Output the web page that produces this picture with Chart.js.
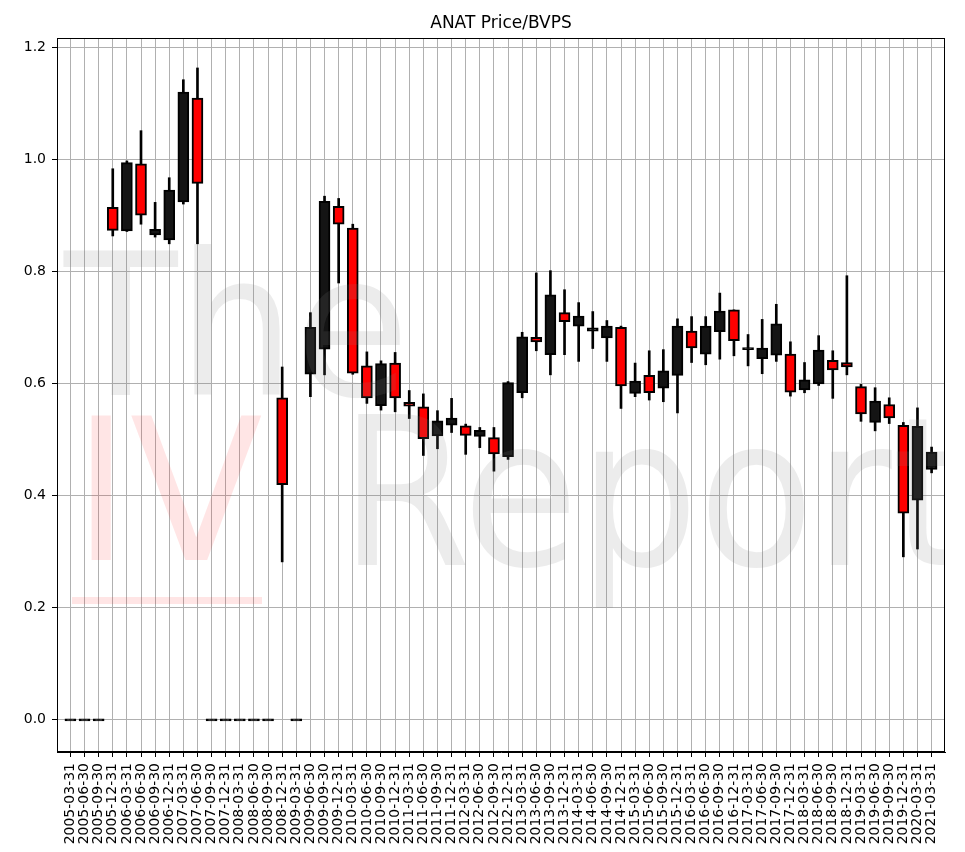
<!DOCTYPE html>
<html>
<head>
<meta charset="utf-8">
<script src="https://cdn.jsdelivr.net/npm/chart.js@4.4.1/dist/chart.umd.min.js"></script>
<style>
  html, body { margin: 0; padding: 0; background: #ffffff; }
  #wrap { width: 965px; height: 852px; }
</style>
</head>
<body>
<div id="wrap"><canvas id="c" width="965" height="852"></canvas></div>
<script>
// ---- Data ----
const dates = [
  "2005-03-31","2005-06-30","2005-09-30","2005-12-31",
  "2006-03-31","2006-06-30","2006-09-30","2006-12-31",
  "2007-03-31","2007-06-30","2007-09-30","2007-12-31",
  "2008-03-31","2008-06-30","2008-09-30","2008-12-31",
  "2009-03-31","2009-06-30","2009-09-30","2009-12-31",
  "2010-03-31","2010-06-30","2010-09-30","2010-12-31",
  "2011-03-31","2011-06-30","2011-09-30","2011-12-31",
  "2012-03-31","2012-06-30","2012-09-30","2012-12-31",
  "2013-03-31","2013-06-30","2013-09-30","2013-12-31",
  "2014-03-31","2014-06-30","2014-09-30","2014-12-31",
  "2015-03-31","2015-06-30","2015-09-30","2015-12-31",
  "2016-03-31","2016-06-30","2016-09-30","2016-12-31",
  "2017-03-31","2017-06-30","2017-09-30","2017-12-31",
  "2018-03-31","2018-06-30","2018-09-30","2018-12-31",
  "2019-03-31","2019-06-30","2019-09-30","2019-12-31",
  "2020-03-31","2021-03-31"
];
const openP = [
  0,0,0,0.915, 0.873,0.993,0.866,0.857, 0.925,1.110,0,0, 0,0,0,0.575,
  0,0.617,0.662,0.917, 0.878,0.632,0.561,0.637, 0.567,0.559,0.507,0.526,
  0.525,0.506,0.504,0.470, 0.584,0.683,0.652,0.727, 0.703,0.694,0.682,0.701,
  0.583,0.615,0.592,0.615, 0.694,0.653,0.693,0.732, 0.661,0.645,0.651,0.653,
  0.589,0.600,0.642,0.638, 0.595,0.531,0.563,0.526, 0.392,0.447
];
const highP = [
  0,0,0,0.984, 0.998,1.052,0.924,0.968, 1.143,1.164,0,0, 0,0,0,0.630,
  0,0.727,0.935,0.931, 0.885,0.657,0.641,0.656, 0.588,0.582,0.552,0.574,
  0.528,0.522,0.522,0.604, 0.692,0.798,0.802,0.768, 0.745,0.729,0.713,0.703,
  0.637,0.659,0.661,0.716, 0.720,0.720,0.762,0.732, 0.688,0.715,0.742,0.675,
  0.638,0.686,0.659,0.793, 0.599,0.593,0.575,0.531, 0.557,0.487
];
const lowP = [
  0,0,0,0.864, 0.872,0.885,0.862,0.850, 0.921,0.850,0,0, 0,0,0,0.282,
  0,0.577,0.616,0.780, 0.617,0.565,0.553,0.550, 0.538,0.472,0.484,0.513,
  0.474,0.486,0.444,0.465, 0.575,0.659,0.616,0.652, 0.640,0.663,0.640,0.556,
  0.577,0.571,0.568,0.548, 0.638,0.634,0.644,0.650, 0.632,0.618,0.640,0.578,
  0.584,0.597,0.574,0.616, 0.533,0.516,0.529,0.291, 0.305,0.441
];
const closeP = [
  0,0,0,0.874, 0.995,0.901,0.876,0.946, 1.121,0.958,0,0, 0,0,0,0.420,
  0,0.701,0.926,0.885, 0.619,0.575,0.636,0.575, 0.560,0.502,0.534,0.539,
  0.508,0.517,0.475,0.602, 0.684,0.675,0.759,0.711, 0.721,0.700,0.703,0.596,
  0.605,0.584,0.623,0.703, 0.664,0.703,0.730,0.677, 0.664,0.664,0.707,0.585,
  0.607,0.660,0.625,0.630, 0.546,0.569,0.539,0.369, 0.524,0.478
];
const yTicks = [0.0, 0.2, 0.4, 0.6, 0.8, 1.0, 1.2];
const chartTitle = "ANAT Price/BVPS";

// ---- Build datasets ----
const bodyData = dates.map((d, i) => ({ x: i, y: [openP[i], closeP[i]] }));
const wickData = dates.map((d, i) => ({ x: i, y: [lowP[i], highP[i]] }));
const bodyColors = dates.map((d, i) => closeP[i] < openP[i] ? '#ff0000' : '#141414');

const FONT = "'DejaVu Sans', Verdana, sans-serif";

const overlayPlugin = {
  id: 'overlay',
  afterDraw(chart) {
    const ctx = chart.ctx;
    const a = chart.chartArea;
    // watermark
    ctx.save();
    ctx.beginPath();
    ctx.rect(a.left, a.top, a.right - a.left, a.bottom - a.top);
    ctx.clip();
    function fitText(text, x0, x1, top, baseline, color) {
      ctx.save();
      let size = 200;
      ctx.font = size + 'px ' + FONT;
      let m = ctx.measureText(text);
      size = size * (baseline - top) / m.actualBoundingBoxAscent;
      ctx.font = size + 'px ' + FONT;
      m = ctx.measureText(text);
      const inkW = m.actualBoundingBoxLeft + m.actualBoundingBoxRight;
      const sx = (x1 - x0) / inkW;
      ctx.translate(x0, baseline);
      ctx.scale(sx, 1);
      ctx.fillStyle = color;
      ctx.textAlign = 'left';
      ctx.textBaseline = 'alphabetic';
      ctx.fillText(text, m.actualBoundingBoxLeft, 0);
      ctx.restore();
    }
    const gray = 'rgba(128,128,128,0.15)';
    const pink = 'rgba(255,0,0,0.1)';
    fitText('The', 63, 400, 244, 395, gray);
    fitText('IV', 91, 262, 415, 560, pink);
    fitText('Report', 358, 962, 413, 565, gray);
    ctx.fillStyle = pink;
    ctx.fillRect(72, 597, 190, 7);
    ctx.restore();

    // full frame border
    ctx.save();
    ctx.strokeStyle = '#000';
    ctx.lineWidth = 1;
    ctx.strokeRect(Math.round(a.left) + 0.5, Math.round(a.top) + 0.5,
                   Math.round(a.right - a.left) - 1, Math.round(a.bottom - a.top) - 1);
    ctx.restore();

    // title
    ctx.save();
    ctx.fillStyle = '#000';
    ctx.font = '17px ' + FONT;
    ctx.textAlign = 'center';
    ctx.textBaseline = 'alphabetic';
    ctx.fillText(chartTitle, (a.left + a.right) / 2, 28);
    ctx.restore();
  }
};

new Chart(document.getElementById('c'), {
  type: 'bar',
  data: {
    datasets: [
      {
        label: 'body',
        data: bodyData,
        backgroundColor: bodyColors,
        borderColor: '#000000',
        borderWidth: 2,
        borderSkipped: false,
        barThickness: 11,
        minBarLength: 2,
        grouped: false,
        order: 0
      },
      {
        label: 'wick',
        data: wickData,
        backgroundColor: '#000000',
        borderWidth: 0,
        barThickness: 2,
        grouped: false,
        order: 1
      }
    ]
  },
  options: {
    responsive: false,
    animation: false,
    devicePixelRatio: 1,
    layout: { padding: { top: 38, right: 20, left: 0, bottom: 0 } },
    plugins: {
      legend: { display: false },
      tooltip: { enabled: false },
      title: { display: false }
    },
    scales: {
      x: {
        type: 'linear',
        min: -0.95,
        max: 61.95,
        offset: false,
        afterBuildTicks(scale) {
          scale.ticks = dates.map((d, i) => ({ value: i }));
        },
        afterFit(scale) { scale.height = 100; },
        grid: {
          offset: false,
          color: '#b0b0b0',
          lineWidth: 1,
          drawTicks: true,
          tickLength: 5,
          tickColor: '#000000'
        },
        border: { display: true, color: '#000000', width: 1 },
        ticks: {
          autoSkip: false,
          minRotation: 90,
          maxRotation: 90,
          padding: 6,
          color: '#000000',
          font: { family: FONT, size: 14 },
          callback: (v, idx) => dates[idx]
        }
      },
      y: {
        type: 'linear',
        min: -0.0575,
        max: 1.2175,
        afterBuildTicks(scale) {
          scale.ticks = yTicks.map(v => ({ value: v }));
        },
        afterFit(scale) { scale.width = 57; },
        grid: {
          color: '#b0b0b0',
          lineWidth: 1,
          drawTicks: true,
          tickLength: 5,
          tickColor: '#000000'
        },
        border: { display: true, color: '#000000', width: 1 },
        ticks: {
          padding: 6,
          color: '#000000',
          font: { family: FONT, size: 14 },
          callback: (v) => Number(v).toFixed(1)
        }
      }
    }
  },
  plugins: [overlayPlugin]
});
</script>
</body>
</html>
